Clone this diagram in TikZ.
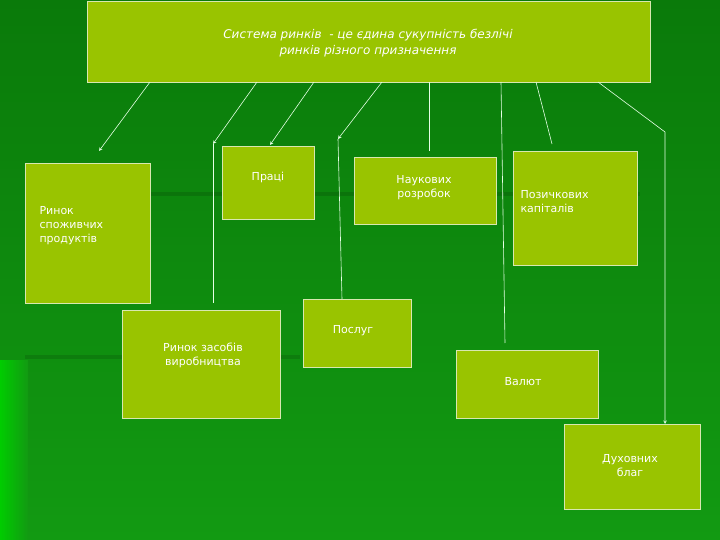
\documentclass[tikz,border=0pt]{standalone}
\usepackage{fontspec}
\setmainfont{DejaVu Sans}
\definecolor{boxg}{HTML}{99C400}
\definecolor{edgeg}{HTML}{D8E8B0}
\definecolor{bgtop}{HTML}{0A7A0A}
\definecolor{bgbot}{HTML}{129A12}
\begin{document}
\begin{tikzpicture}[x=1pt,y=-1pt,
  bx/.style={draw=edgeg,fill=boxg,line width=0.8pt},
  lbl/.style={text=white,font=\fontsize{11}{14}\selectfont,align=center},
  con/.style={draw=white!90!green,line width=0.6pt},
  arr/.style={con,-stealth}]
\useasboundingbox (0,0) rectangle (720,540);
\shade[top color=bgtop,bottom color=bgbot] (0,0) rectangle (720,540);
\shade[left color=green!80!black,right color=bgbot] (0,360) rectangle (28,540);
\fill[black,opacity=0.12] (65,192) rectangle (640,196);
\fill[black,opacity=0.12] (25,355) rectangle (300,359);
% boxes
\draw[bx] (87,1) rectangle (650,82);
\node[lbl,font=\fontsize{12}{16}\selectfont\itshape] (top) at (368,43) {Система ринків\ \ - це єдина сукупність безлічі\\ринків різного призначення};
\coordinate (topb) at (368,82);
\draw[bx] (25,163) rectangle (150,303);
\node[lbl,align=left,anchor=west] (spozh) at (36,226) {Ринок\\споживчих\\продуктів};
\draw[bx] (222,146) rectangle (314,219);
\node[lbl] (prac) at (268,177) {Праці};
\draw[bx] (354,157) rectangle (496,224);
\node[lbl] (nauk) at (424,188) {Наукових\\розробок};
\draw[bx] (513,151) rectangle (637,265);
\node[lbl,align=left,anchor=west] (pozych) at (517,202) {Позичкових\\капіталів};
\draw[bx] (122,310) rectangle (280,418);
\node[lbl] (zasob) at (203,355) {Ринок засобів\\виробництва};
\draw[bx] (303,299) rectangle (411,367);
\node[lbl] (posl) at (353,331) {Послуг};
\draw[bx] (456,350) rectangle (598,418);
\node[lbl] (valut) at (523,382) {Валют};
\draw[bx] (564,424) rectangle (700,509);
\node[lbl] (duh) at (630,466) {Духовних\\благ};
% connectors
\coordinate (a1) at (150,82); \coordinate (e1) at (99,151);
\draw[arr] (a1) -- (e1);
\coordinate (a2) at (257,82); \coordinate (m2) at (213,144); \coordinate (e2) at (213,303);
\draw[arr] (a2) -- (m2); \draw[con] (m2) -- (e2);
\coordinate (a3) at (314,82); \coordinate (e3) at (270,145);
\draw[arr] (a3) -- (e3);
\coordinate (a4) at (382,82); \coordinate (m4) at (338,139); \coordinate (e4) at (342,299);
\draw[arr] (a4) -- (m4); \draw[con] (m4) -- (e4);
\coordinate (a5) at (429,82); \coordinate (e5) at (429,151);
\draw[con] (a5) -- (e5);
\coordinate (a6) at (501,82); \coordinate (e6) at (505,343);
\draw[con] (a6) -- (e6);
\coordinate (a7) at (536,82); \coordinate (e7) at (552,144);
\draw[con] (a7) -- (e7);
\coordinate (a8) at (598,82); \coordinate (m8) at (665,132); \coordinate (e8) at (665,424);
\draw[arr] (a8) -- (m8) -- (e8);
\end{tikzpicture}
\end{document}
